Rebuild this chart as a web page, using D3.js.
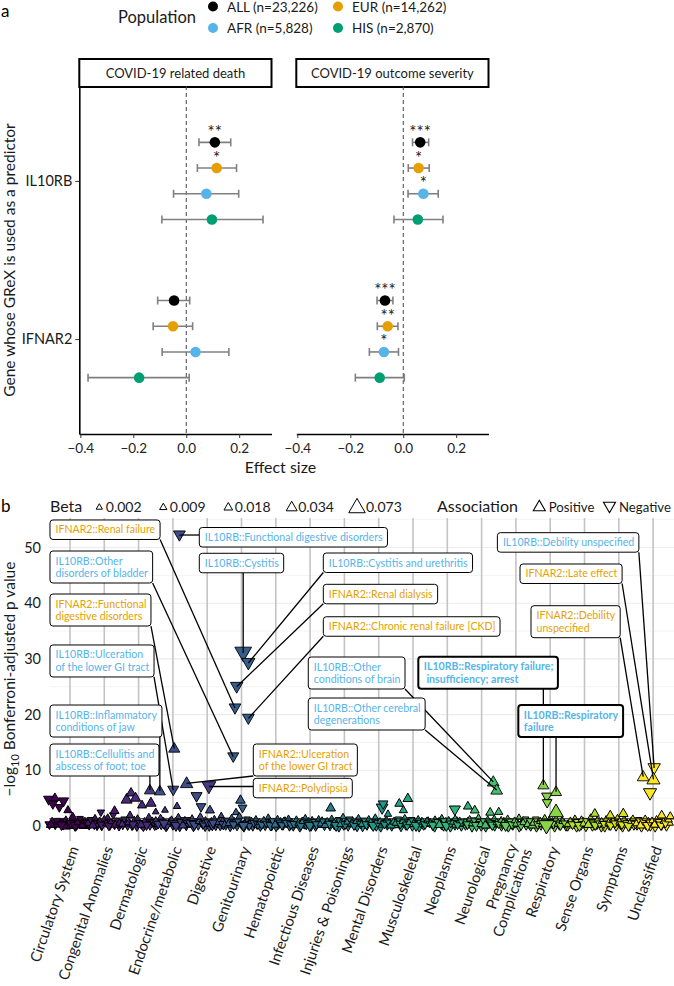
<!DOCTYPE html>
<html><head><meta charset="utf-8">
<script src="https://cdn.jsdelivr.net/npm/d3@7"></script>
<style>body{margin:0;background:#fff}svg{display:block}text{font-family:Lato,"Open Sans",sans-serif}</style>
</head><body><svg id="c" width="674" height="986"></svg>
<script>
// ================= Panel a data =================
const outcomes = ["COVID-19 related death", "COVID-19 outcome severity"];
const genes = ["IL10RB", "IFNAR2"];
const pops = ["ALL", "EUR", "AFR", "HIS"];
const popLabels = ["ALL (n=23,226)", "EUR (n=14,262)", "AFR (n=5,828)", "HIS (n=2,870)"];
const popColors = ["#000000", "#E69F00", "#56B4E9", "#009E73"];
// order of each array: ALL, EUR, AFR, HIS
const deathIL10RB_est = [0.108, 0.115, 0.076, 0.097];
const deathIL10RB_lo  = [0.048, 0.042, -0.048, -0.092];
const deathIL10RB_hi  = [0.168, 0.190, 0.198, 0.290];
const deathIL10RB_sig = ["**", "*", "", ""];
const deathIFNAR2_est = [-0.046, -0.050, 0.035, -0.178];
const deathIFNAR2_lo  = [-0.108, -0.125, -0.091, -0.371];
const deathIFNAR2_hi  = [0.013, 0.024, 0.161, 0.011];
const deathIFNAR2_sig = ["", "", "", ""];
const sevIL10RB_est = [0.064, 0.058, 0.076, 0.055];
const sevIL10RB_lo  = [0.035, 0.019, 0.018, -0.035];
const sevIL10RB_hi  = [0.096, 0.098, 0.132, 0.150];
const sevIL10RB_sig = ["***", "*", "*", ""];
const sevIFNAR2_est = [-0.069, -0.059, -0.073, -0.089];
const sevIFNAR2_lo  = [-0.099, -0.098, -0.128, -0.181];
const sevIFNAR2_hi  = [-0.039, -0.020, -0.018, 0.004];
const sevIFNAR2_sig = ["***", "**", "*", ""];
const effectTicks = [-0.4, -0.2, 0, 0.2];

// ================= Panel b data =================
const catNames = ["Circulatory System","Congenital Anomalies","Dermatologic","Endocrine/metabolic","Digestive","Genitourinary","Hematopoietic","Infectious Diseases","Injuries & Poisonings","Mental Disorders","Musculoskeletal","Neoplasms","Neurological","Pregnancy\nComplications","Respiratory","Sense Organs","Symptoms","Unclassified"];
const pTicks = [0, 10, 20, 30, 40, 50];
const betaLegend = [0.002, 0.009, 0.018, 0.034, 0.073];
const sigThreshold = 1.3;
// associations near the baseline, one row per category: position offset, -log10 p, |beta|, direction (1 = positive)
const bandOff = [
 [-0.6,-0.52,-0.43,-0.35,-0.27,-0.2,-0.12,-0.04,0.04,0.11,0.19,0.26,0.34,0.41,0.47],
 [-0.5,-0.44,-0.36,-0.29,-0.21,-0.15,-0.08,0.02,0.09,0.16,0.23,0.3,0.36,0.43,0.49],
 [-0.46,-0.39,-0.32,-0.26,-0.19,-0.12,-0.05,0.01,0.08,0.14,0.21,0.27,0.33,0.4,0.47],
 [-0.48,-0.41,-0.34,-0.27,-0.2,-0.14,-0.07,0.0,0.07,0.13,0.2,0.26,0.33,0.39,0.46],
 [-0.47,-0.4,-0.33,-0.26,-0.2,-0.13,-0.06,0.0,0.06,0.12,0.19,0.25,0.32,0.38,0.45],
 [-0.46,-0.4,-0.33,-0.27,-0.2,-0.13,-0.07,0.0,0.07,0.13,0.2,0.26,0.33,0.39,0.45],
 [-0.5,-0.45,-0.38,-0.31,-0.25,-0.18,-0.12,-0.05,0.01,0.08,0.14,0.21,0.27,0.34,0.4,0.47],
 [-0.49,-0.43,-0.37,-0.3,-0.24,-0.17,-0.11,-0.04,0.03,0.09,0.16,0.22,0.29,0.35,0.42,0.48],
 [-0.48,-0.42,-0.35,-0.29,-0.22,-0.16,-0.09,-0.02,0.05,0.11,0.18,0.24,0.31,0.37,0.44],
 [-0.47,-0.4,-0.34,-0.27,-0.21,-0.14,-0.07,-0.01,0.06,0.12,0.19,0.25,0.32,0.38,0.45],
 [-0.48,-0.41,-0.35,-0.28,-0.21,-0.15,-0.08,-0.02,0.05,0.12,0.18,0.25,0.31,0.38,0.44],
 [-0.5,-0.43,-0.37,-0.3,-0.24,-0.17,-0.11,-0.04,0.02,0.09,0.15,0.22,0.28,0.35,0.41,0.48],
 [-0.47,-0.41,-0.34,-0.28,-0.21,-0.15,-0.08,-0.01,0.06,0.12,0.19,0.25,0.32,0.38,0.45],
 [-0.48,-0.42,-0.35,-0.29,-0.22,-0.16,-0.09,-0.03,0.04,0.1,0.17,0.23,0.3,0.36,0.43],
 [-0.47,-0.4,-0.34,-0.27,-0.2,-0.14,-0.07,0.0,0.07,0.13,0.2,0.27,0.33,0.4,0.46],
 [-0.49,-0.42,-0.36,-0.29,-0.23,-0.16,-0.1,-0.03,0.04,0.1,0.17,0.23,0.3,0.36,0.43,0.49],
 [-0.48,-0.41,-0.35,-0.28,-0.22,-0.15,-0.08,-0.02,0.05,0.11,0.18,0.24,0.31,0.37,0.44],
 [-0.47,-0.4,-0.34,-0.27,-0.21,-0.14,-0.08,-0.01,0.06,0.12,0.19,0.25,0.32,0.39,0.46]
];
const bandP = [
 [0.2,0.6,0.1,0.4,0.8,0.3,0.0,0.5,0.2,0.7,0.1,0.4,0.9,0.2,0.5],
 [0.5,0.1,0.7,0.3,0.0,0.6,0.2,0.4,0.8,0.1,0.5,0.3,0.7,0.0,0.4],
 [0.3,0.7,0.1,0.5,0.2,0.9,0.0,0.6,0.3,0.1,0.7,0.4,0.2,0.8,0.1],
 [0.1,0.5,0.3,0.8,0.0,0.4,0.6,0.2,0.7,0.3,0.0,0.5,0.9,0.1,0.4],
 [0.4,0.0,0.6,0.2,0.8,0.3,0.1,0.5,0.0,0.7,0.4,0.2,0.6,0.1,0.8],
 [0.2,0.6,0.0,0.4,0.7,0.1,0.5,0.3,0.0,0.8,0.2,0.5,0.1,0.6,0.3],
 [0.3,0.0,0.5,0.2,0.8,0.4,0.1,0.6,0.0,0.3,0.7,0.2,0.9,0.4,0.1,0.6],
 [0.1,0.6,0.3,0.0,0.7,0.4,0.2,0.8,0.1,0.5,0.0,0.6,0.3,0.9,0.2,0.5],
 [0.4,0.1,0.7,0.3,0.5,0.0,0.8,0.2,0.6,0.1,0.4,0.9,0.3,0.0,0.6],
 [0.0,0.5,0.2,0.7,0.3,0.9,0.1,0.6,0.0,0.4,0.7,0.2,0.5,0.1,0.8],
 [0.3,0.7,0.0,0.5,0.2,0.8,0.4,0.1,0.6,0.3,0.0,0.7,0.2,0.5,0.9],
 [0.6,0.2,0.0,0.5,0.8,0.3,0.1,0.7,0.4,0.0,0.6,0.2,0.9,0.3,0.1,0.5],
 [0.2,0.7,0.4,0.0,0.6,0.3,0.9,0.1,0.5,0.0,0.7,0.3,0.6,0.1,0.4],
 [0.5,0.1,0.8,0.3,0.0,0.6,0.2,0.7,0.4,0.0,0.5,0.9,0.2,0.6,0.1],
 [0.3,0.0,0.6,0.2,0.8,0.4,0.1,0.3,0.7,0.0,0.5,0.2,0.8,0.4,0.1],
 [0.1,0.6,0.3,0.9,0.0,0.5,0.2,0.7,0.0,0.4,0.8,0.1,0.5,0.3,0.7,0.0],
 [0.4,0.0,0.7,0.2,0.5,0.9,0.1,0.6,0.3,0.0,0.8,0.4,0.1,0.6,0.2],
 [0.2,0.7,0.0,0.5,0.3,0.8,0.1,0.6,0.0,0.4,0.9,0.2,0.5,0.1,0.7]
];
const bandB = [
 [0.03,0.04,0.025,0.035,0.03,0.045,0.03,0.025,0.04,0.03,0.035,0.025,0.03,0.04,0.03],
 [0.035,0.03,0.025,0.04,0.03,0.035,0.045,0.03,0.025,0.035,0.03,0.04,0.025,0.035,0.03],
 [0.04,0.03,0.035,0.025,0.045,0.03,0.04,0.03,0.035,0.05,0.025,0.035,0.04,0.03,0.035],
 [0.03,0.035,0.04,0.025,0.045,0.03,0.035,0.04,0.03,0.025,0.045,0.03,0.035,0.04,0.03],
 [0.035,0.045,0.03,0.04,0.025,0.035,0.05,0.03,0.04,0.03,0.035,0.045,0.025,0.04,0.03],
 [0.04,0.03,0.045,0.035,0.03,0.04,0.025,0.035,0.05,0.03,0.04,0.03,0.045,0.025,0.035],
 [0.035,0.04,0.03,0.045,0.025,0.035,0.04,0.03,0.045,0.035,0.03,0.04,0.025,0.035,0.045,0.03],
 [0.045,0.03,0.035,0.05,0.03,0.04,0.035,0.025,0.045,0.03,0.04,0.035,0.03,0.025,0.045,0.035],
 [0.035,0.04,0.03,0.045,0.03,0.05,0.025,0.04,0.035,0.045,0.03,0.025,0.04,0.045,0.03],
 [0.045,0.03,0.04,0.03,0.035,0.025,0.045,0.03,0.05,0.035,0.03,0.04,0.035,0.045,0.025],
 [0.035,0.03,0.045,0.035,0.04,0.025,0.035,0.045,0.03,0.04,0.05,0.03,0.04,0.035,0.025],
 [0.03,0.04,0.05,0.035,0.025,0.04,0.045,0.03,0.035,0.05,0.03,0.04,0.025,0.035,0.045,0.03],
 [0.04,0.03,0.035,0.05,0.03,0.04,0.025,0.045,0.035,0.05,0.03,0.04,0.03,0.045,0.035],
 [0.03,0.045,0.025,0.04,0.05,0.03,0.04,0.03,0.035,0.05,0.035,0.025,0.04,0.03,0.045],
 [0.035,0.05,0.03,0.04,0.025,0.035,0.045,0.04,0.03,0.05,0.035,0.04,0.025,0.035,0.045],
 [0.045,0.03,0.04,0.025,0.05,0.035,0.04,0.03,0.045,0.035,0.025,0.045,0.03,0.04,0.03,0.05],
 [0.035,0.05,0.03,0.04,0.035,0.025,0.045,0.03,0.04,0.05,0.03,0.035,0.045,0.03,0.04],
 [0.04,0.03,0.05,0.035,0.04,0.025,0.045,0.03,0.05,0.035,0.025,0.04,0.035,0.045,0.03]
];
const bandD = [
 [0,1,0,1,0,0,1,0,1,0,0,1,0,1,0],
 [1,0,1,0,0,1,0,1,1,0,1,0,1,0,1],
 [0,1,0,1,0,1,0,1,0,0,1,1,0,1,0],
 [0,1,0,1,0,0,1,0,1,1,0,1,0,0,1],
 [1,0,1,0,1,0,0,1,0,1,1,0,1,0,1],
 [0,1,0,1,1,0,1,0,0,1,0,1,0,1,0],
 [1,0,1,0,1,1,0,1,0,0,1,0,1,1,0,1],
 [0,1,1,0,1,0,0,1,0,1,0,1,1,1,0,1],
 [1,0,1,0,1,0,1,0,1,0,1,1,0,0,1],
 [0,1,0,1,0,1,0,1,0,1,1,0,1,0,1],
 [1,1,0,1,0,1,1,0,1,0,0,1,0,1,1],
 [1,0,0,1,1,0,0,1,1,0,1,0,1,1,0,1],
 [0,1,1,0,1,0,1,0,1,0,1,1,1,0,1],
 [1,0,1,1,0,1,0,1,1,0,1,1,0,1,0],
 [1,0,1,0,1,1,0,1,1,0,1,0,1,1,0],
 [0,1,1,1,0,1,0,1,0,1,1,0,1,0,1,0],
 [1,0,1,0,1,1,0,1,0,0,1,1,0,1,0],
 [0,1,0,1,0,1,0,1,0,1,1,0,1,0,1]
];
// further associations, one row per category
const bgOff = [
 [-0.62,-0.56,-0.5,-0.44,-0.38,-0.31,-0.25,-0.19,-0.12,-0.06,0.01,0.08,0.15,0.22,0.29,0.36,0.42,0.48],
 [-0.47,-0.4,-0.33,-0.27,-0.2,-0.13,-0.07,0.0,0.06,0.13,0.19,0.26,0.32,0.38,0.44,-0.1,0.1,0.3],
 [-0.48,-0.42,-0.35,-0.29,-0.22,-0.16,-0.09,-0.03,0.04,0.1,0.17,0.23,0.3,0.36,0.43,0.5,-0.25,0.07],
 [-0.5,-0.43,-0.36,-0.3,-0.23,-0.17,-0.1,-0.04,0.03,0.09,0.16,0.22,0.29,0.35,0.42,0.48,-0.26,0.12],
 [-0.5,-0.44,-0.37,-0.31,-0.24,-0.18,-0.11,-0.05,0.02,0.08,0.15,0.21,0.28,0.34,0.41,0.47,-0.2,0.17],
 [-0.49,-0.42,-0.36,-0.29,-0.23,-0.16,-0.1,-0.03,0.03,0.1,0.16,0.23,0.29,0.36,0.42,0.48,-0.06,0.06],
 [-0.48,-0.41,-0.35,-0.28,-0.22,-0.15,-0.09,-0.02,0.05,0.11,0.18,0.24,0.31,0.37,0.44],
 [-0.47,-0.4,-0.34,-0.27,-0.21,-0.14,-0.08,-0.01,0.06,0.12,0.19,0.25,0.32,0.38,0.45,0.6],
 [-0.5,-0.43,-0.37,-0.3,-0.24,-0.17,-0.11,-0.04,0.02,0.09,0.15,0.22,0.28,0.35,0.41,0.48],
 [-0.49,-0.42,-0.36,-0.29,-0.23,-0.16,-0.1,-0.03,0.04,0.1,0.17,0.23,0.3,0.36,0.43,0.13,0.27],
 [-0.5,-0.43,-0.37,-0.3,-0.24,-0.17,-0.11,-0.04,0.02,0.09,0.15,0.22,0.28,0.35,0.41,0.48,-0.4,-0.15,-0.28],
 [-0.49,-0.42,-0.36,-0.29,-0.23,-0.16,-0.1,-0.03,0.04,0.1,0.17,0.23,0.3,0.36,0.43,0.22,0.6],
 [-0.48,-0.41,-0.35,-0.28,-0.22,-0.15,-0.09,-0.02,0.05,0.11,0.18,0.24,0.31,0.37,0.44,-0.2,0.25,0.5],
 [-0.5,-0.43,-0.37,-0.3,-0.24,-0.17,-0.11,-0.04,0.02,0.09,0.15,0.22,0.28,0.35,0.41,0.48],
 [-0.49,-0.42,-0.36,-0.29,-0.23,-0.16,-0.1,-0.03,0.04,0.1,0.17,0.23,0.3,0.36,0.43,-0.1,-0.09,0.17,-0.11],
 [-0.48,-0.41,-0.35,-0.28,-0.22,-0.15,-0.09,-0.02,0.05,0.11,0.18,0.24,0.31,0.37,0.44,0.3],
 [-0.5,-0.43,-0.37,-0.3,-0.24,-0.17,-0.11,-0.04,0.02,0.09,0.15,0.22,0.28,0.35,0.41,0.48,-0.25,0.13],
 [-0.49,-0.42,-0.36,-0.29,-0.23,-0.16,-0.1,-0.03,0.04,0.1,0.17,0.23,0.3,0.36,0.45,-0.09,0.25,0.5]
];
const bgP = [
 [4.7,0.3,3.9,5.1,0.9,3.3,0.1,4.4,1.2,2.9,0.4,1.8,0.0,0.7,1.3,0.2,0.9,0.5],
 [0.6,1.1,0.2,1.5,0.4,0.9,0.1,1.3,0.5,0.0,0.8,1.9,0.3,1.0,0.6,2.4,1.6,2.8],
 [0.4,1.2,4.8,0.7,6.0,0.2,5.1,1.4,0.5,3.8,0.9,0.1,1.6,4.2,0.6,2.6,2.0,0.3],
 [1.0,0.3,1.5,0.6,2.9,0.1,0.8,1.2,0.4,0.0,1.7,0.7,0.2,1.1,0.5,0.9,0.4,3.6],
 [0.5,1.4,0.2,5.3,0.9,3.4,0.3,1.0,0.6,2.9,0.1,1.3,0.4,0.8,1.9,0.2,1.7,0.5],
 [0.3,1.0,0.6,1.5,0.2,2.5,0.8,4.7,3.2,0.4,1.2,0.1,0.9,0.5,1.3,0.2,1.8,0.0],
 [0.7,0.2,1.1,0.4,1.6,0.0,0.9,0.3,1.3,0.6,0.1,1.0,0.5,1.4,0.2],
 [0.3,1.2,0.6,0.1,0.9,1.5,0.4,0.0,1.1,0.7,0.2,1.3,0.5,0.8,0.3,3.3],
 [0.9,0.3,1.4,0.6,0.0,1.1,0.4,1.7,0.2,0.8,1.2,0.5,0.1,0.9,1.5,0.3],
 [0.4,1.0,0.2,1.3,0.7,0.0,1.6,0.5,0.9,3.2,0.3,1.1,0.6,0.2,0.8,3.9,2.2],
 [0.6,1.2,0.3,0.9,1.5,0.1,0.7,1.1,0.4,0.0,1.3,0.5,0.8,0.2,1.0,0.4,4.1,5.0,2.9],
 [0.5,0.1,1.2,0.7,0.3,1.5,0.9,0.0,1.1,0.4,0.8,1.4,0.2,1.0,0.6,2.9,3.6],
 [0.8,0.2,1.3,0.5,1.0,0.0,1.6,0.4,0.9,0.2,1.2,0.6,0.1,1.4,0.7,2.9,2.5,2.6],
 [0.3,1.1,0.6,0.0,1.4,0.8,0.2,1.0,0.5,1.6,0.1,0.7,1.2,0.4,0.9,0.2],
 [0.6,1.2,0.2,0.9,0.4,1.5,0.0,1.1,0.7,0.3,1.3,0.5,0.1,0.9,0.4,5.26,4.13,2.57,0.0],
 [0.4,1.0,0.2,1.4,0.7,0.0,1.2,0.5,0.9,0.3,1.6,0.6,0.1,1.1,0.4,2.3],
 [0.9,0.3,1.3,0.6,0.1,1.0,0.4,1.5,0.8,0.2,1.2,0.5,0.0,0.9,1.4,0.3,2.0,2.3],
 [0.5,1.1,0.2,0.8,1.4,0.0,0.6,1.0,0.3,1.3,0.7,0.1,0.9,0.4,1.2,5.87,2.0,1.8]
];
const bgB = [
 [0.04,0.03,0.035,0.03,0.02,0.03,0.035,0.04,0.015,0.025,0.03,0.02,0.04,0.02,0.015,0.025,0.012,0.02],
 [0.02,0.015,0.03,0.012,0.025,0.02,0.035,0.015,0.02,0.03,0.01,0.02,0.025,0.015,0.02,0.02,0.012,0.03],
 [0.02,0.015,0.045,0.02,0.035,0.03,0.04,0.015,0.02,0.03,0.015,0.035,0.02,0.04,0.02,0.015,0.02,0.025],
 [0.02,0.03,0.015,0.025,0.015,0.035,0.02,0.015,0.03,0.04,0.012,0.02,0.03,0.015,0.025,0.02,0.04,0.02],
 [0.03,0.015,0.04,0.045,0.02,0.035,0.03,0.02,0.025,0.03,0.04,0.015,0.02,0.025,0.012,0.035,0.02,0.03],
 [0.02,0.015,0.025,0.012,0.03,0.02,0.02,0.035,0.03,0.025,0.015,0.035,0.02,0.025,0.012,0.03,0.015,0.04],
 [0.02,0.03,0.015,0.02,0.012,0.035,0.02,0.025,0.015,0.02,0.03,0.015,0.025,0.012,0.03],
 [0.025,0.015,0.02,0.035,0.02,0.012,0.025,0.04,0.015,0.02,0.03,0.012,0.025,0.02,0.03,0.035],
 [0.015,0.03,0.012,0.02,0.04,0.015,0.025,0.012,0.03,0.02,0.015,0.025,0.035,0.02,0.012,0.03],
 [0.02,0.015,0.03,0.012,0.02,0.04,0.012,0.025,0.015,0.05,0.03,0.015,0.02,0.03,0.02,0.035,0.02],
 [0.02,0.015,0.03,0.02,0.012,0.035,0.02,0.015,0.025,0.04,0.012,0.025,0.02,0.03,0.015,0.02,0.03,0.035,0.025],
 [0.02,0.035,0.015,0.02,0.03,0.012,0.02,0.04,0.015,0.025,0.02,0.012,0.03,0.015,0.025,0.045,0.03],
 [0.015,0.03,0.012,0.02,0.02,0.04,0.012,0.025,0.015,0.03,0.015,0.02,0.035,0.012,0.02,0.03,0.03,0.025],
 [0.025,0.015,0.02,0.04,0.012,0.02,0.03,0.015,0.025,0.012,0.035,0.02,0.015,0.025,0.02,0.03],
 [0.02,0.015,0.03,0.02,0.025,0.012,0.04,0.015,0.02,0.03,0.015,0.025,0.035,0.02,0.025,0.04,0.035,0.07,0.075],
 [0.02,0.015,0.03,0.012,0.02,0.04,0.015,0.025,0.02,0.03,0.012,0.02,0.035,0.015,0.025,0.03],
 [0.015,0.025,0.012,0.02,0.035,0.015,0.025,0.012,0.02,0.03,0.015,0.02,0.04,0.015,0.012,0.03,0.03,0.035],
 [0.02,0.015,0.03,0.02,0.012,0.04,0.02,0.015,0.025,0.012,0.02,0.035,0.015,0.025,0.02,0.06,0.03,0.025]
];
const bgD = [
 [0,1,0,1,0,0,0,0,1,1,0,1,0,1,0,1,1,0],
 [1,0,1,1,0,1,0,1,1,0,1,0,1,0,1,0,1,1],
 [1,0,1,1,1,0,1,1,0,1,1,0,1,1,0,1,1,1],
 [1,0,1,0,1,0,1,1,0,0,1,0,1,1,0,1,0,1],
 [0,1,0,0,1,0,0,1,0,1,0,1,0,1,1,0,1,0],
 [1,0,1,1,0,1,0,1,0,1,0,0,1,0,1,0,1,0],
 [1,0,1,0,1,0,0,1,1,0,0,1,0,1,0],
 [0,1,1,0,1,1,0,0,1,0,0,1,1,0,1,1],
 [1,0,1,1,0,0,1,1,0,1,0,1,0,1,1,0],
 [1,0,0,1,1,0,1,0,1,0,0,1,0,1,1,0,1],
 [1,0,0,1,1,0,1,0,1,0,1,0,1,0,1,0,1,1,1],
 [1,0,1,0,1,1,0,0,1,0,1,1,0,1,0,0,1],
 [1,0,1,1,0,0,1,1,0,1,1,0,0,1,1,1,1,1],
 [0,1,1,0,1,0,0,1,1,1,0,1,0,1,0,1],
 [1,0,0,1,1,1,0,1,0,0,1,1,0,1,0,0,0,1,0],
 [1,1,0,1,0,0,1,1,0,1,1,0,0,1,0,1],
 [1,0,1,1,0,1,0,1,1,0,1,0,0,1,1,0,1,1],
 [1,0,1,0,1,0,0,1,1,1,0,0,1,0,1,0,1,1]
];
// labelled associations
const hitGene  = ["IFNAR2","IL10RB","IFNAR2","IL10RB","IL10RB","IL10RB","IL10RB","IL10RB","IL10RB","IFNAR2","IFNAR2","IL10RB","IL10RB","IFNAR2","IFNAR2","IL10RB","IL10RB","IL10RB","IFNAR2","IFNAR2"];
const hitPheno = [["Renal failure"],["Other","disorders of bladder"],["Functional","digestive disorders"],["Ulceration","of the lower GI tract"],["Inflammatory","conditions of jaw"],["Cellulitis and","abscess of foot; toe"],["Functional digestive disorders"],["Cystitis"],["Cystitis and urethritis"],["Renal dialysis"],["Chronic renal failure [CKD]"],["Other","conditions of brain"],["Other cerebral","degenerations"],["Ulceration","of the lower GI tract"],["Polydipsia"],["Respiratory failure;"," insufficiency; arrest"],["Respiratory","failure"],["Debility unspecified"],["Late effect"],["Debility","unspecified"]];
const hitCat = [5,5,4,4,4,3,4,5,5,5,5,12,12,4,3,14,14,17,17,17];
const hitX   = [4.81,4.76,3.04,3.01,2.62,2.33,3.19,5.05,5.20,4.86,5.20,12.34,12.44,3.40,4.05,13.80,14.17,17.03,17.01,16.71];
const hitP   = [21.18,12.44,13.95,6.46,6.28,6.46,52.24,31.06,29.26,25.01,19.33,7.92,6.46,7.67,7.09,7.36,6.16,10.41,8.38,8.85];
const hitB   = [0.05,0.045,0.045,0.045,0.045,0.045,0.05,0.085,0.06,0.055,0.05,0.05,0.05,0.055,0.065,0.045,0.045,0.055,0.06,0.05];
const hitD   = [0,0,1,0,1,1,0,0,0,0,0,1,1,1,0,1,1,0,1,1];
const hitBold = [0,0,0,0,0,0,0,0,0,0,0,0,0,0,0,1,1,0,0,0];
// repelled label box anchors (top-left) in data coordinates
const lblX = [-0.583,-0.583,-0.583,-0.583,-0.583,-0.583,3.77,3.77,7.385,7.385,7.385,6.947,6.947,5.344,5.344,10.155,13.07,12.46,13.12,13.44];
const lblY = [54.94,49.37,41.65,32.5,21.72,14.72,53.59,48.96,49.01,43.39,37.57,30.34,22.98,14.72,8.56,30.39,21.72,52.66,47.04,39.55];

// ================= Drawing =================
const svg = d3.select("#c");
const geneColor = {IL10RB: "#56B4E9", IFNAR2: "#E69F00"};
const ink = "#1a1a1a";

// ---- Panel a ----
svg.append("text").attr("x", 1).attr("y", 17).attr("font-size", 17).text("a");
svg.append("text").attr("x", 118).attr("y", 23).attr("font-size", 16.5).attr("fill", ink).text("Population");
const legPos = [[213, 6.5], [338, 6.5], [213, 28], [338, 28]];
pops.forEach((p, i) => {
  const [lx, ly] = legPos[i];
  svg.append("circle").attr("cx", lx).attr("cy", ly).attr("r", 5).attr("fill", popColors[i]);
  svg.append("text").attr("x", lx + 14).attr("y", ly + 5).attr("font-size", 13.5).attr("fill", ink).text(popLabels[i]);
});

const panelsA = [[79.3, 271.5], [296.3, 488.5]];
const yTopA = 86, yBotA = 434;
const yA = d3.scalePoint().domain(genes).range([yTopA, yBotA]).padding(0.6);
const dodge = d3.scaleBand().domain(pops).range([-51.4, 51.4]);
const dataA = [
  [[deathIL10RB_est, deathIL10RB_lo, deathIL10RB_hi, deathIL10RB_sig], [deathIFNAR2_est, deathIFNAR2_lo, deathIFNAR2_hi, deathIFNAR2_sig]],
  [[sevIL10RB_est, sevIL10RB_lo, sevIL10RB_hi, sevIL10RB_sig], [sevIFNAR2_est, sevIFNAR2_lo, sevIFNAR2_hi, sevIFNAR2_sig]]
];
const fmt = d3.format(".1f");
outcomes.forEach((oc, k) => {
  const [x0, x1] = panelsA[k];
  const x = d3.scaleLinear().domain([-0.404, 0.322]).range([x0, x1]);
  svg.append("rect").attr("x", x0).attr("y", 59).attr("width", x1 - x0).attr("height", 28)
    .attr("fill", "#fff").attr("stroke", "#000").attr("stroke-width", 2);
  svg.append("text").attr("x", (x0 + x1) / 2).attr("y", 78).attr("text-anchor", "middle")
    .attr("font-size", 13).attr("fill", ink).text(oc);
  svg.append("line").attr("x1", x(0)).attr("x2", x(0)).attr("y1", yTopA).attr("y2", yBotA)
    .attr("stroke", "#444").attr("stroke-width", 1).attr("stroke-dasharray", "4,3");
  const gx = svg.append("g").attr("transform", `translate(0,${yBotA})`)
    .call(d3.axisBottom(x).tickValues(effectTicks).tickSize(4).tickSizeOuter(0).tickFormat(d => fmt(d)));
  gx.select(".domain").attr("stroke", "#000").attr("stroke-width", 1.6);
  gx.selectAll(".tick line").attr("stroke", "#333").attr("stroke-width", 1);
  gx.selectAll(".tick text").attr("font-size", 13.5).attr("fill", "#222").attr("font-family", "Lato").attr("dy", "0.9em");
  if (k === 0) {
    const gy = svg.append("g").attr("transform", `translate(${x0},0)`)
      .call(d3.axisLeft(yA).tickSize(4).tickSizeOuter(0));
    gy.select(".domain").attr("stroke", "#000").attr("stroke-width", 1.6);
    gy.selectAll(".tick line").attr("stroke", "#333");
    gy.selectAll(".tick text").attr("font-size", 14.5).attr("fill", ink).attr("font-family", "Lato");
  }
  genes.forEach((g, gi) => {
    const [est, lo, hi, sig] = dataA[k][gi];
    pops.forEach((p, pi) => {
      const cy = yA(g) + dodge(p) + dodge.bandwidth() / 2;
      const eg = svg.append("g").attr("stroke", "#808080").attr("stroke-width", 1.6);
      eg.append("line").attr("x1", x(lo[pi])).attr("x2", x(hi[pi])).attr("y1", cy).attr("y2", cy);
      eg.append("line").attr("x1", x(lo[pi])).attr("x2", x(lo[pi])).attr("y1", cy - 4).attr("y2", cy + 4);
      eg.append("line").attr("x1", x(hi[pi])).attr("x2", x(hi[pi])).attr("y1", cy - 4).attr("y2", cy + 4);
      svg.append("circle").attr("cx", x(est[pi])).attr("cy", cy).attr("r", 5.3).attr("fill", popColors[pi]);
      if (sig[pi]) svg.append("text").attr("x", x(est[pi])).attr("y", cy - 4.5).attr("text-anchor", "middle")
        .attr("font-size", 17).attr("fill", "#222").text(sig[pi]);
    });
  });
});
svg.append("text").attr("transform", `translate(15,${(yTopA + yBotA) / 2}) rotate(-90)`)
  .attr("text-anchor", "middle").attr("font-size", 15.5).attr("fill", ink).text("Gene whose GReX is used as a predictor");
svg.append("text").attr("x", 280.5).attr("y", 473).attr("text-anchor", "middle").attr("font-size", 16)
  .attr("fill", ink).text("Effect size");

// ---- Panel b ----
const xB = d3.scaleLinear().domain([-0.6, 17.6]).range([49.4, 673.7]);
const yB = d3.scaleLinear().domain([0, 50]).range([826, 547.5]);
const topB = 518, botB = 841;
const sizeB = d3.scaleLinear().domain([0, 0.034, 0.073]).range([4.5, 9.5, 15]);
const triPath = (w, up) => {
  const h = w * 0.87, a = up ? -1 : 1;
  return `M0,${a * h * 0.6}L${w / 2},${-a * h * 0.4}L${-w / 2},${-a * h * 0.4}Z`;
};
const catColor = i => d3.interpolateViridis(i / (catNames.length - 1));

svg.append("text").attr("x", 1).attr("y", 512).attr("font-size", 17).text("b");
const grid = svg.append("g");
d3.range(0, 55.1, 5).forEach(v => grid.append("line").attr("x1", 49.4).attr("x2", 674).attr("y1", yB(v)).attr("y2", yB(v))
  .attr("stroke", "#ebebeb").attr("stroke-width", v % 10 === 0 ? 1.1 : 0.6));
catNames.forEach((c, i) => grid.append("line").attr("x1", xB(i)).attr("x2", xB(i)).attr("y1", topB).attr("y2", botB)
  .attr("stroke", "#c4c4c4").attr("stroke-width", 1.6));
const gyB = svg.append("g").attr("transform", "translate(44,0)")
  .call(d3.axisLeft(yB).tickValues(pTicks).tickSize(0).tickPadding(3));
gyB.select(".domain").remove();
gyB.selectAll(".tick text").attr("font-size", 14.5).attr("fill", ink).attr("font-family", "Lato");
const yt = svg.append("text").attr("transform", "translate(15,679) rotate(-90)").attr("text-anchor", "middle")
  .attr("font-size", 15.5).attr("fill", ink);
yt.append("tspan").text("\u2212log");
yt.append("tspan").attr("font-size", 11).attr("dy", 4).text("10");
yt.append("tspan").attr("dy", -4).text(" Bonferroni-adjusted p value");
catNames.forEach((c, i) => {
  const lines = c.split("\n");
  const g = svg.append("g").attr("transform", `translate(${xB(i) - 1},845) rotate(-71)`);
  lines.forEach((ln, li) => g.append("text").attr("text-anchor", "end").attr("font-size", 14.8).attr("fill", ink)
    .attr("y", (li - (lines.length - 1) / 2) * 15.5).attr("dy", "0.72em").text(ln));
});
const pts = svg.append("g");
const drawRows = (offs, ps, bs, ds) => offs.forEach((row, c) => row.forEach((o, j) => {
  pts.append("path").attr("d", triPath(sizeB(bs[c][j]), ds[c][j] === 1))
    .attr("transform", `translate(${xB(c + o)},${yB(ps[c][j])})`)
    .attr("fill", catColor(c)).attr("stroke", "#000").attr("stroke-width", 1);
}));
drawRows(bandOff, bandP, bandB, bandD);
drawRows(bgOff, bgP, bgB, bgD);
svg.append("line").attr("x1", 49.4).attr("x2", 674).attr("y1", yB(sigThreshold)).attr("y2", yB(sigThreshold))
  .attr("stroke", "#222").attr("stroke-width", 1);
hitX.forEach((hx, i) => {
  pts.append("path").attr("d", triPath(sizeB(hitB[i]), hitD[i] === 1))
    .attr("transform", `translate(${xB(hx)},${yB(hitP[i])})`)
    .attr("fill", catColor(hitCat[i])).attr("stroke", "#000").attr("stroke-width", 0.9);
});
const lab = svg.append("g");
hitX.forEach((hx, i) => {
  const bx = xB(lblX[i]), by = yB(lblY[i]);
  const bold = hitBold[i] === 1;
  const tg = lab.append("g");
  const t = tg.append("text").attr("font-size", 10.6).attr("fill", geneColor[hitGene[i]]).attr("font-weight", bold ? 700 : 400);
  hitPheno[i].forEach((ln, li) => t.append("tspan").attr("x", bx + 5.5).attr("y", by + 13.5 + li * 12.5)
    .attr("xml:space", "preserve").text(li === 0 ? hitGene[i] + "::" + ln : ln));
  const bb = t.node().getBBox();
  const w = bb.width + 10, h = 19.5 + 12.5 * (hitPheno[i].length - 1);
  const px = xB(hx), py = yB(hitP[i]);
  const sx = Math.max(bx, Math.min(bx + w, px)), sy = Math.max(by, Math.min(by + h, py));
  lab.insert("line", ":first-child").attr("x1", sx).attr("y1", sy).attr("x2", px).attr("y2", py)
    .attr("stroke", "#000").attr("stroke-width", 1.3);
  tg.insert("rect", "text").attr("x", bx).attr("y", by).attr("width", w).attr("height", h).attr("rx", 3)
    .attr("fill", "#fff").attr("stroke", "#000").attr("stroke-width", bold ? 2 : 1);
});
svg.append("text").attr("x", 50).attr("y", 512).attr("font-size", 16).attr("fill", ink).text("Beta");
const betaLegX = [99.3, 163.3, 228.3, 291.7, 357];
betaLegend.forEach((b, i) => {
  svg.append("path").attr("d", triPath(sizeB(b) + 1.5, true)).attr("transform", `translate(${betaLegX[i]},${507})`)
    .attr("fill", "none").attr("stroke", "#000").attr("stroke-width", 1);
  svg.append("text").attr("x", betaLegX[i] + (i === 4 ? 9 : 6.5)).attr("y", 512).attr("font-size", 14).attr("fill", ink).text(b);
});
svg.append("text").attr("x", 437).attr("y", 512).attr("font-size", 16).attr("fill", ink).text("Association");
[["Positive", true, 539.3], ["Negative", false, 609.5]].forEach(([lbl, up, lx]) => {
  svg.append("path").attr("d", triPath(12, up)).attr("transform", `translate(${lx},506.5)`)
    .attr("fill", "none").attr("stroke", "#000").attr("stroke-width", 1.1);
  svg.append("text").attr("x", lx + 9.5).attr("y", 512).attr("font-size", 13.2).attr("fill", ink).text(lbl);
});
</script></body></html>
